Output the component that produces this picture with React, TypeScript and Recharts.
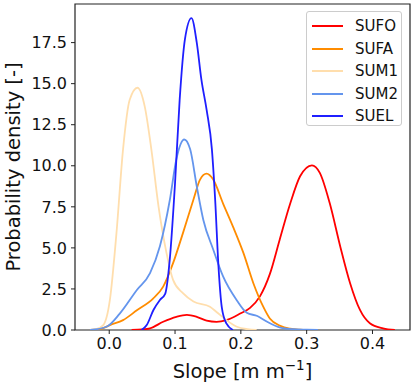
import { LineChart, Line, XAxis, YAxis, ReferenceArea } from "recharts"

const seriesNames = ["SUFO", "SUFA", "SUM1", "SUM2", "SUEL"]
const seriesColors = ["#ff0000", "#ff8c00", "#ffdead", "#6495ed", "#1f1fff"]

const sufoSlope = [0.034, 0.05, 0.062, 0.082, 0.102, 0.118, 0.133, 0.148, 0.163, 0.178, 0.199, 0.214, 0.229, 0.244, 0.259, 0.275, 0.29, 0.308, 0.32, 0.335, 0.351, 0.366, 0.381, 0.396, 0.416, 0.434]
const sufoDensity = [0, 0.03, 0.1, 0.5, 0.8, 0.92, 0.8, 0.57, 0.5, 0.6, 1.0, 1.35, 2.05, 3.4, 5.5, 7.7, 9.36, 10.03, 9.57, 7.73, 5.09, 2.85, 1.22, 0.41, 0.1, 0]

const sufaSlope = [-0.029, -0.01, 0.001, 0.021, 0.042, 0.067, 0.082, 0.097, 0.112, 0.128, 0.138, 0.148, 0.158, 0.173, 0.188, 0.204, 0.219, 0.234, 0.244, 0.26, 0.275, 0.29, 0.302]
const sufaDensity = [0, 0.1, 0.3, 0.6, 1.2, 1.93, 2.64, 4.07, 5.9, 7.94, 9.16, 9.52, 9.16, 7.7, 6.3, 4.68, 2.85, 1.42, 0.7, 0.25, 0.08, 0.02, 0]

const sum1Slope = [-0.029, -0.02, -0.009, 0.001, 0.011, 0.021, 0.031, 0.043, 0.054, 0.064, 0.075, 0.087, 0.097, 0.112, 0.128, 0.153, 0.163, 0.178, 0.194, 0.21, 0.224]
const sum1Density = [0, 0.05, 0.3, 1.83, 5.9, 11.0, 14.0, 14.75, 13.6, 11.0, 7.5, 4.7, 3.05, 2.24, 1.73, 1.42, 1.1, 0.6, 0.2, 0.05, 0]

const sum2Slope = [-0.029, -0.004, 0.016, 0.042, 0.062, 0.077, 0.092, 0.102, 0.114, 0.123, 0.133, 0.143, 0.158, 0.173, 0.194, 0.209, 0.225, 0.24, 0.26, 0.28, 0.3, 0.317]
const sum2Density = [0, 0.2, 1.0, 2.44, 3.46, 5.1, 7.9, 10.4, 11.6, 11.0, 8.75, 6.7, 4.9, 3.26, 1.8, 1.05, 0.85, 0.5, 0.15, 0.05, 0.02, 0]

const suelSlope = [0.049, 0.057, 0.067, 0.077, 0.085, 0.092, 0.1, 0.107, 0.115, 0.125, 0.133, 0.14, 0.148, 0.156, 0.161, 0.166, 0.171, 0.178, 0.188]
const suelDensity = [0, 0.3, 1.2, 1.83, 2.2, 4.3, 8.95, 14.0, 17.7, 18.99, 17.5, 15.26, 13.4, 11.0, 7.9, 3.87, 1.4, 0.4, 0]

const xTicks = [0, 0.1, 0.2, 0.3, 0.4]
const yTicks = [0, 2.5, 5, 7.5, 10, 12.5, 15, 17.5]

const xDomain = [-0.052, 0.457]
const yDomain = [0, 19.85]

const toPoints = (xs: number[], ys: number[]) => xs.map((x, i) => ({ x, y: ys[i] }))

const series = [
  toPoints(sufoSlope, sufoDensity),
  toPoints(sufaSlope, sufaDensity),
  toPoints(sum1Slope, sum1Density),
  toPoints(sum2Slope, sum2Density),
  toPoints(suelSlope, suelDensity),
]

const font = "DejaVu Sans, sans-serif"

export default function App() {
  return (
    <div style={{ position: "absolute", left: 0, top: 0, width: 416, height: 387, background: "#fff" }}>
      <LineChart width={416} height={387} margin={{ top: 4, right: 6, left: 0, bottom: 0 }}>
        <ReferenceArea
          x1={xDomain[0]}
          x2={xDomain[1]}
          y1={yDomain[0]}
          y2={yDomain[1]}
          fill="none"
          stroke="#222"
          strokeWidth={1.2}
          ifOverflow="visible"
        />
        <XAxis
          type="number"
          dataKey="x"
          domain={xDomain}
          ticks={xTicks}
          allowDataOverflow
          height={57}
          axisLine={false}
          tickLine={{ stroke: "#222" }}
          tickSize={4}
          tickMargin={4}
          tick={{ fontSize: 16, fill: "#111", fontFamily: font }}
          tickFormatter={(v: number) => v.toFixed(1)}
          label={{
            content: () => (
              <text x={242.5} y={378} textAnchor="middle" fontSize={19.5} fontFamily={font} fill="#111">
                Slope [m m<tspan dy={-8} fontSize={13.5}>−1</tspan><tspan dy={8}>]</tspan>
              </text>
            ),
          }}
        />
        <YAxis
          type="number"
          dataKey="y"
          domain={yDomain}
          ticks={yTicks}
          allowDataOverflow
          width={75}
          axisLine={false}
          tickLine={{ stroke: "#222" }}
          tickSize={4}
          tickMargin={4}
          tick={{ fontSize: 16, fill: "#111", fontFamily: font }}
          tickFormatter={(v: number) => v.toFixed(1)}
          label={{
            content: () => (
              <text
                x={20}
                y={167}
                textAnchor="middle"
                fontSize={19.5}
                fontFamily={font}
                fill="#111"
                transform="rotate(-90 20 167)"
              >
                Probability density [-]
              </text>
            ),
          }}
        />
        {series.map((pts, i) => (
          <Line
            key={seriesNames[i]}
            data={pts}
            dataKey="y"
            type="monotone"
            stroke={seriesColors[i]}
            strokeWidth={1.8}
            dot={false}
            isAnimationActive={false}
          />
        ))}
      </LineChart>
      <div
        style={{
          position: "absolute",
          left: 306,
          top: 11,
          width: 96,
          height: 115,
          border: "1px solid #ccc",
          borderRadius: 3,
          background: "rgba(255,255,255,0.8)",
          boxSizing: "border-box",
          fontFamily: font,
          fontSize: 15,
          color: "#111",
        }}
      >
        {seriesNames.map((name, i) => (
          <div key={name} style={{ position: "absolute", left: 5, top: 4 + i * 22.6, height: 20, display: "flex", alignItems: "center" }}>
            <div style={{ width: 31, height: 2, background: seriesColors[i] }} />
            <span style={{ marginLeft: 12 }}>{name}</span>
          </div>
        ))}
      </div>
    </div>
  )
}
